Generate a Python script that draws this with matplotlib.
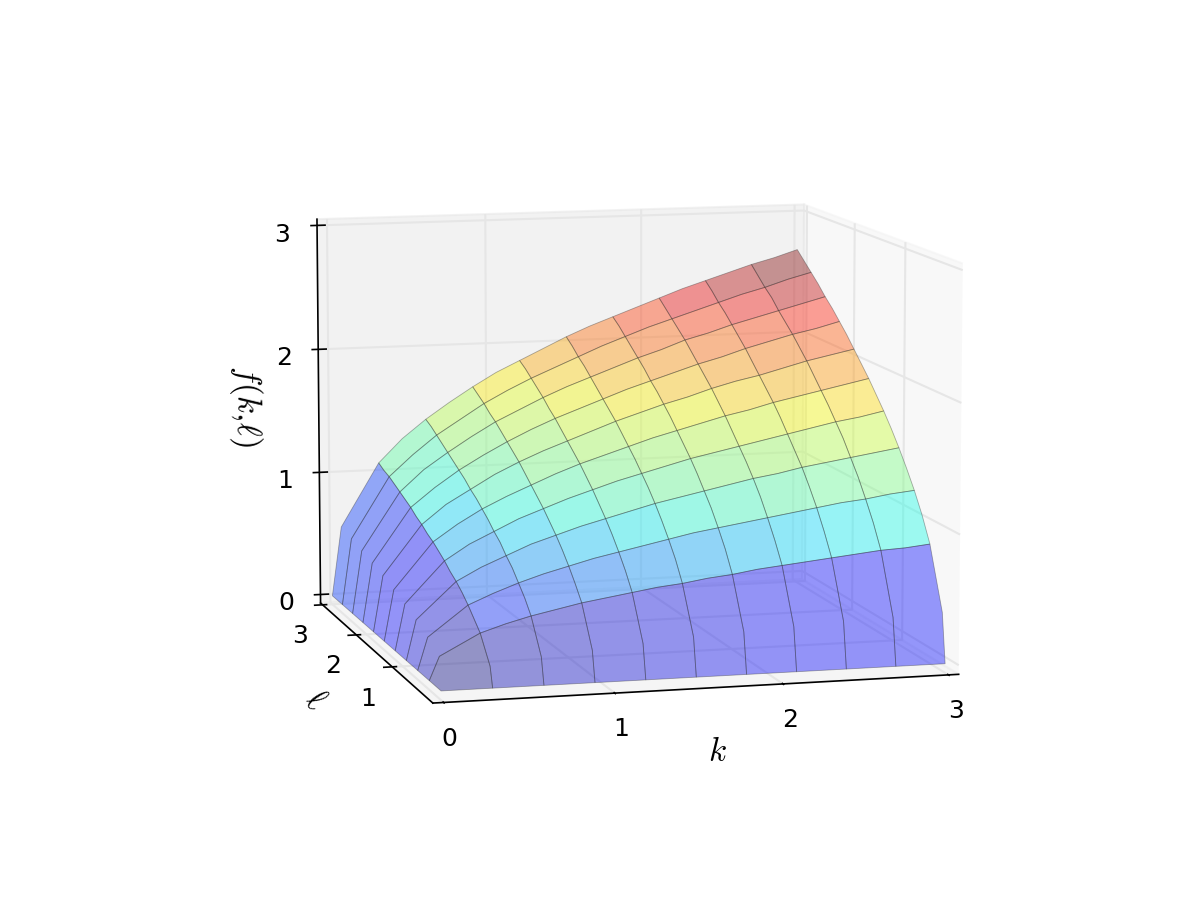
import numpy as np
import matplotlib
matplotlib.use("Agg")
import matplotlib.pyplot as plt

k_values = [0.0, 0.06, 0.3, 0.45, 0.6, 0.75, 0.9, 1.05, 1.2, 1.35, 1.5,
            1.65, 1.8, 1.95, 2.1, 2.25, 2.4, 2.55, 2.7, 2.85, 3.0]
l_values = [0.0, 0.06, 0.3, 0.45, 0.6, 0.75, 0.9, 1.05, 1.2, 1.35, 1.5,
            1.65, 1.8, 1.95, 2.1, 2.25, 2.4, 2.55, 2.7, 2.85, 3.0]

# heights, rows are l, columns are k
f_values = [
    [0]*21,
    [0, .08, .15, .18, .20, .22, .23, .25, .26, .28, .29, .30, .31, .32, .33, .34, .35, .36, .36, .37, .38],
    [0, .18, .34, .40, .45, .49, .53, .56, .59, .62, .64, .67, .69, .72, .74, .76, .78, .80, .82, .83, .85],
    [0, .22, .41, .49, .55, .60, .64, .68, .72, .76, .79, .82, .85, .88, .90, .93, .95, .98, 1.00, 1.02, 1.04],
    [0, .25, .48, .56, .63, .69, .74, .79, .83, .87, .91, .95, .98, 1.01, 1.04, 1.07, 1.10, 1.13, 1.15, 1.18, 1.20],
    [0, .28, .54, .63, .71, .77, .83, .88, .93, .98, 1.02, 1.06, 1.10, 1.13, 1.17, 1.20, 1.23, 1.26, 1.29, 1.32, 1.34],
    [0, .31, .59, .69, .77, .85, .91, .97, 1.02, 1.07, 1.12, 1.16, 1.20, 1.24, 1.28, 1.31, 1.35, 1.38, 1.41, 1.44, 1.47],
    [0, .33, .63, .75, .84, .91, .98, 1.05, 1.10, 1.16, 1.21, 1.25, 1.30, 1.34, 1.38, 1.42, 1.45, 1.49, 1.53, 1.56, 1.59],
    [0, .36, .68, .80, .89, .98, 1.05, 1.12, 1.18, 1.24, 1.29, 1.34, 1.39, 1.43, 1.47, 1.51, 1.55, 1.59, 1.63, 1.66, 1.70],
    [0, .38, .72, .84, .95, 1.04, 1.11, 1.19, 1.25, 1.31, 1.37, 1.42, 1.47, 1.52, 1.56, 1.61, 1.65, 1.69, 1.73, 1.77, 1.80],
    [0, .40, .76, .89, 1.00, 1.09, 1.17, 1.25, 1.32, 1.38, 1.44, 1.50, 1.55, 1.60, 1.65, 1.69, 1.74, 1.78, 1.82, 1.86, 1.90],
    [0, .42, .79, .93, 1.05, 1.14, 1.23, 1.31, 1.38, 1.45, 1.51, 1.57, 1.63, 1.68, 1.73, 1.78, 1.82, 1.87, 1.91, 1.95, 1.99],
    [0, .44, .83, .98, 1.09, 1.20, 1.29, 1.37, 1.44, 1.51, 1.58, 1.64, 1.70, 1.75, 1.81, 1.86, 1.90, 1.95, 2.00, 2.04, 2.08],
    [0, .45, .86, 1.01, 1.14, 1.24, 1.34, 1.42, 1.50, 1.57, 1.64, 1.71, 1.77, 1.82, 1.88, 1.93, 1.98, 2.03, 2.08, 2.12, 2.17],
    [0, .47, .90, 1.05, 1.18, 1.29, 1.39, 1.48, 1.56, 1.63, 1.70, 1.77, 1.83, 1.89, 1.95, 2.00, 2.06, 2.11, 2.16, 2.20, 2.25],
    [0, .49, .93, 1.09, 1.22, 1.34, 1.44, 1.53, 1.61, 1.69, 1.76, 1.83, 1.90, 1.96, 2.02, 2.07, 2.13, 2.18, 2.23, 2.28, 2.33],
    [0, .50, .96, 1.13, 1.26, 1.38, 1.49, 1.58, 1.67, 1.75, 1.82, 1.89, 1.96, 2.02, 2.09, 2.14, 2.20, 2.25, 2.30, 2.35, 2.40],
    [0, .52, .99, 1.16, 1.30, 1.42, 1.53, 1.63, 1.72, 1.80, 1.88, 1.95, 2.02, 2.09, 2.15, 2.21, 2.27, 2.32, 2.38, 2.43, 2.48],
    [0, .53, 1.02, 1.19, 1.34, 1.46, 1.58, 1.68, 1.77, 1.85, 1.93, 2.01, 2.08, 2.15, 2.21, 2.27, 2.33, 2.39, 2.44, 2.50, 2.55],
    [0, .55, 1.04, 1.23, 1.38, 1.50, 1.62, 1.72, 1.82, 1.90, 1.99, 2.06, 2.14, 2.20, 2.27, 2.33, 2.40, 2.45, 2.51, 2.57, 2.62],
    [0, .56, 1.07, 1.26, 1.41, 1.54, 1.66, 1.77, 1.86, 1.95, 2.04, 2.12, 2.19, 2.26, 2.33, 2.40, 2.46, 2.52, 2.58, 2.63, 2.69],
]
k_ticks = [0, 1, 2, 3]
l_ticks = [1, 2, 3]
f_ticks = [0, 1, 2, 3]

plt.rcParams['mathtext.fontset'] = 'cm'

K, L = np.meshgrid(k_values, l_values)
F = np.array(f_values)

fig = plt.figure(figsize=(8, 6), dpi=150)
ax = fig.add_subplot(projection='3d')
ax.set_position([0.1285, 0.1155, 0.775, 0.77])
ax.set_box_aspect((4, 4, 3.07), zoom=1.18)
ax.set_proj_type('persp', focal_length=1.4)
ax.view_init(elev=9, azim=-105)

ax.plot_surface(K, L, F, rstride=2, cstride=2, cmap='jet',
                alpha=0.4, linewidth=0.4, edgecolor='#333333')

ax.set_xlim(-0.0625, 3.0625)
ax.set_ylim(-0.0625, 3.0625)
ax.set_zlim(-0.07, 3.05)
ax.set_xticks(k_ticks)
ax.set_yticks(l_ticks)
ax.set_zticks(f_ticks)
ax.tick_params(labelsize=12, pad=0)
ax.tick_params(axis='z', pad=2)
ax.set_xlabel(r'$k$', fontsize=16, labelpad=0)
ax.set_ylabel(r'$\ell$', fontsize=16, labelpad=-1)
ax.set_zlabel(r'$f(k,\!\ell)$', fontsize=16, labelpad=0)

for axis in (ax.xaxis, ax.yaxis, ax.zaxis):
    axis._axinfo['grid']['color'] = (0.9, 0.9, 0.9, 1)
    axis._axinfo['grid']['linewidth'] = 1.0
ax.zaxis._axinfo['tick']['outward_factor'] = 0.2
ax.zaxis._axinfo['tick']['inward_factor'] = 0.15
ax.xaxis._axinfo['tick']['outward_factor'] = 0.05
ax.xaxis._axinfo['tick']['inward_factor'] = 0.05

fig.savefig('out.png')
